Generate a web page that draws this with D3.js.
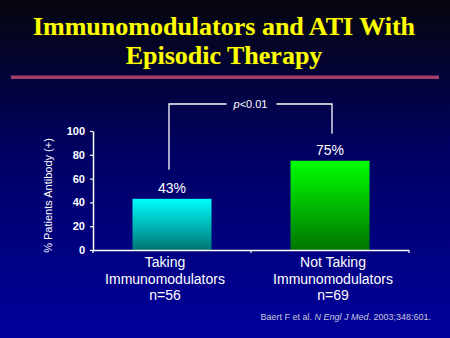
<!DOCTYPE html>
<html>
<head>
<meta charset="utf-8">
<script src="https://cdn.jsdelivr.net/npm/d3@7"></script>
<style>
  html, body { margin: 0; padding: 0; background: #000; }
  svg { display: block; }
</style>
</head>
<body>
<div id="chart"></div>
<script>
var titleLines = ["Immunomodulators and ATI With", "Episodic Therapy"];
var categories = ["Taking", "Not Taking"];
var labelLines = [
    ["Taking", "Immunomodulators", "n=56"],
    ["Not Taking", "Immunomodulators", "n=69"]
];
var values = [43, 75];
var yTicks = [0, 20, 40, 60, 80, 100];
var yLabel = "% Patients Antibody (+)";
var pText = "<0.01";

var width = 450, height = 338;
var margin = {top: 131, right: 41, bottom: 88, left: 93};

var svg = d3.select("#chart").append("svg")
    .attr("width", width)
    .attr("height", height);

var defs = svg.append("defs");
var bg = defs.append("linearGradient").attr("id", "bg")
    .attr("x1", 0).attr("y1", 0).attr("x2", 0).attr("y2", 1);
bg.append("stop").attr("offset", "0%").attr("stop-color", "#06060e");
bg.append("stop").attr("offset", "45%").attr("stop-color", "#000064");
bg.append("stop").attr("offset", "100%").attr("stop-color", "#00009c");

// bar gradients: bright on top, darker at the bottom
var barColours = [["#00ffff", "#007474"], ["#00ff00", "#007400"]];
barColours.forEach(function(c, i) {
    var g = defs.append("linearGradient").attr("id", "bar" + i)
        .attr("x1", 0).attr("y1", 0).attr("x2", 0).attr("y2", 1);
    g.append("stop").attr("offset", "0%").attr("stop-color", c[0]);
    g.append("stop").attr("offset", "100%").attr("stop-color", c[1]);
});

svg.append("rect").attr("width", width).attr("height", height).attr("fill", "url(#bg)");

// Title
var title = svg.append("text")
    .attr("text-anchor", "middle")
    .attr("font-family", "Liberation Serif, Times New Roman, serif")
    .attr("font-weight", "bold")
    .attr("font-size", 26)
    .attr("fill", "#ffff00")
    .attr("stroke", "#303000")
    .attr("stroke-width", 0.6)
    .attr("paint-order", "stroke");
titleLines.forEach(function(t, i) {
    title.append("tspan").attr("x", 224).attr("y", 35 + i * 28.5).text(t);
});

svg.append("rect")
    .attr("x", 11).attr("y", 75.5)
    .attr("width", 428).attr("height", 3.5)
    .attr("fill", "#a43e6c");

var innerW = width - margin.left - margin.right,
    innerH = height - margin.top - margin.bottom;

var x = d3.scaleBand()
    .domain(categories)
    .range([0, innerW])
    .paddingInner(0.5)
    .paddingOuter(0.25);

var y = d3.scaleLinear()
    .domain([0, 100])
    .range([innerH, 0]);

var g = svg.append("g").attr("transform", "translate(" + margin.left + "," + margin.top + ")");

// bars
g.selectAll("rect.bar").data(values).enter().append("rect")
    .attr("class", "bar")
    .attr("x", function(d, i) { return x(categories[i]); })
    .attr("y", function(d) { return y(d); })
    .attr("width", x.bandwidth())
    .attr("height", function(d) { return innerH - y(d); })
    .attr("fill", function(d, i) { return "url(#bar" + i + ")"; });

// value labels
g.selectAll("text.val").data(values).enter().append("text")
    .attr("class", "val")
    .attr("x", function(d, i) { return x(categories[i]) + x.bandwidth() / 2; })
    .attr("y", function(d) { return y(d) - 6; })
    .attr("text-anchor", "middle")
    .attr("font-family", "Liberation Sans, Arial, sans-serif")
    .attr("font-size", 14)
    .attr("fill", "#ffffff")
    .text(function(d) { return d + "%"; });

// y axis
var yAxis = g.append("g")
    .call(d3.axisLeft(y).tickValues(yTicks).tickSize(3).tickPadding(5));
yAxis.select(".domain").attr("stroke", "#ffffff").attr("stroke-width", 1.5)
    .attr("d", "M0.5," + innerH + "V0.5");
yAxis.selectAll(".tick line").attr("stroke", "#ffffff").attr("stroke-width", 1.2);
yAxis.selectAll(".tick text")
    .attr("fill", "#ffffff")
    .attr("font-family", "Liberation Sans, Arial, sans-serif")
    .attr("font-weight", "bold")
    .attr("font-size", 11);

// x axis
var xAxis = g.append("g").attr("transform", "translate(0," + innerH + ")")
    .call(d3.axisBottom(x).tickSize(0).tickFormat(""));
xAxis.select(".domain").attr("stroke", "#ffffff").attr("stroke-width", 1.5)
    .attr("d", "M0," + 0.5 + "H" + innerW);
// separators at band edges
var edges = [0, innerW / 2, innerW];
xAxis.selectAll("line.edge").data(edges).enter().append("line")
    .attr("class", "edge")
    .attr("x1", function(d) { return d; }).attr("x2", function(d) { return d; })
    .attr("y1", 0).attr("y2", 3)
    .attr("stroke", "#ffffff").attr("stroke-width", 1.2);

// category labels (slightly left of band centre, as in the slide)
var lab = xAxis.selectAll("text.cat").data(labelLines).enter().append("text")
    .attr("class", "cat")
    .attr("text-anchor", "middle")
    .attr("font-family", "Liberation Sans, Arial, sans-serif")
    .attr("font-size", 14)
    .attr("fill", "#ffffff");
lab.each(function(lines, i) {
    var cx = x(categories[i]) + x.bandwidth() / 2 + (i === 0 ? -7 : 3);
    d3.select(this).selectAll("tspan").data(lines).enter().append("tspan")
        .attr("x", cx)
        .attr("y", function(d, j) { return 17 + j * 16.5; })
        .text(function(d) { return d; });
});

// y label
g.append("text")
    .attr("transform", "translate(-41," + (innerH / 2 + 5) + ") rotate(-90)")
    .attr("text-anchor", "middle")
    .attr("font-family", "Liberation Sans, Arial, sans-serif")
    .attr("font-size", 11)
    .attr("fill", "#ffffff")
    .text(yLabel);

// significance bracket
var x0 = x(categories[0]) + x.bandwidth() / 2 - 3,
    x1 = x(categories[1]) + x.bandwidth() / 2 + 2,
    by = -27,
    xm = (x0 + x1) / 2;
var br = g.append("g").attr("stroke", "#ffffff").attr("stroke-width", 1.3).attr("fill", "none");
br.append("path").attr("d", "M" + x0 + "," + (y(values[0]) - 29) + "V" + by + "H" + (xm - 24));
br.append("path").attr("d", "M" + (xm + 26) + "," + by + "H" + x1 + "V" + (y(values[1]) - 27));
var pt = g.append("text")
    .attr("x", xm).attr("y", by + 4)
    .attr("text-anchor", "middle")
    .attr("font-family", "Liberation Sans, Arial, sans-serif")
    .attr("font-size", 11)
    .attr("fill", "#ffffff");
pt.append("tspan").attr("font-style", "italic").text("p");
pt.append("tspan").text(pText);

// citation
var cite = svg.append("text")
    .attr("x", 431).attr("y", 320)
    .attr("text-anchor", "end")
    .attr("font-family", "Liberation Sans, Arial, sans-serif")
    .attr("font-size", 9)
    .attr("fill", "#c8c8dc");
cite.append("tspan").text("Baert F et al. ");
cite.append("tspan").attr("font-style", "italic").text("N Engl J Med");
cite.append("tspan").text(". 2003;348:601.");
</script>
</body>
</html>
